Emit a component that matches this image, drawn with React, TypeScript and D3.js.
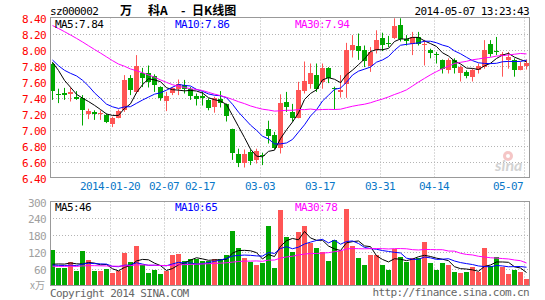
import React from "react";
import * as d3 from "d3";

const W = 545;
const H = 300;

// ---- data (2014-01-06 .. 2014-05-07, 80 trading days) ----
const open = [7.82, 7.445, 7.46, 7.44, 7.41, 7.40, 7.20, 7.22, 7.19, 7.18,
  7.07, 7.15, 7.24, 7.645, 7.47, 7.71, 7.71, 7.67, 7.53, 7.355,
  7.46, 7.51, 7.555, 7.51, 7.42, 7.42, 7.375, 7.28, 7.38, 7.32,
  7.005, 6.70, 6.583, 6.72, 6.617, 6.68, 7.005, 6.93, 6.775, 7.346,
  7.22, 7.15, 7.48, 7.575, 7.68, 7.60, 7.77, 7.52, 7.47, 7.575,
  8.00, 8.046, 7.99, 7.80, 7.99, 8.15, 8.08, 8.14, 8.31, 8.13,
  8.067, 8.158, 8.05, 8.00, 7.95, 7.867, 7.74, 7.875, 7.71, 7.72,
  7.66, 7.74, 7.78, 8.067, 7.985, 7.92, 7.875, 7.867, 7.74, 7.80];
const high = [7.84, 7.51, 7.52, 7.525, 7.48, 7.43, 7.26, 7.24, 7.24, 7.20,
  7.16, 7.25, 7.68, 7.68, 7.93, 7.77, 7.80, 7.69, 7.54, 7.47,
  7.53, 7.625, 7.62, 7.53, 7.45, 7.47, 7.39, 7.41, 7.48, 7.325,
  7.01, 6.76, 6.75, 6.75, 6.76, 6.71, 7.11, 6.97, 7.44, 7.47,
  7.32, 7.596, 7.85, 7.825, 7.825, 7.825, 7.78, 7.535, 7.68, 8.083,
  8.18, 8.20, 8.05, 8.03, 8.24, 8.21, 8.17, 8.39, 8.39, 8.18,
  8.22, 8.22, 8.12, 8.01, 7.97, 7.875, 7.89, 7.89, 7.80, 7.74,
  7.76, 7.825, 8.117, 8.117, 8.157, 7.97, 7.97, 7.89, 7.845, 7.875];
const low = [7.37, 7.33, 7.37, 7.35, 7.37, 7.05, 7.13, 7.12, 7.12, 7.08,
  7.03, 7.14, 7.22, 7.43, 7.45, 7.53, 7.525, 7.47, 7.36, 7.23,
  7.43, 7.43, 7.45, 7.37, 7.30, 7.30, 7.24, 7.21, 7.275, 7.10,
  6.62, 6.53, 6.525, 6.555, 6.575, 6.555, 6.825, 6.75, 6.70, 7.22,
  7.10, 7.14, 7.45, 7.51, 7.47, 7.51, 7.58, 7.25, 7.40, 7.396,
  7.90, 7.87, 7.78, 7.72, 7.95, 7.98, 8.03, 8.13, 8.10, 8.05,
  7.93, 8.05, 7.80, 7.89, 7.825, 7.70, 7.70, 7.70, 7.60, 7.64,
  7.60, 7.70, 7.76, 7.91, 7.93, 7.66, 7.76, 7.66, 7.74, 7.75];
const close = [7.48, 7.44, 7.43, 7.47, 7.38, 7.24, 7.23, 7.19, 7.21, 7.10,
  7.15, 7.23, 7.625, 7.50, 7.80, 7.645, 7.60, 7.555, 7.39, 7.42,
  7.525, 7.57, 7.51, 7.42, 7.38, 7.40, 7.275, 7.39, 7.33, 7.17,
  6.71, 6.583, 6.70, 6.61, 6.733, 6.665, 6.925, 6.775, 7.333, 7.283,
  7.15, 7.50, 7.61, 7.71, 7.51, 7.77, 7.64, 7.51, 7.50, 8.00,
  8.06, 7.983, 7.86, 7.97, 8.12, 8.05, 8.07, 8.29, 8.13, 8.11,
  8.158, 8.067, 8.075, 7.96, 7.93, 7.76, 7.867, 7.763, 7.78, 7.667,
  7.74, 7.80, 7.99, 7.94, 7.97, 7.95, 7.91, 7.75, 7.79, 7.83];
const volume = [126, 63, 63, 83, 52, 122, 91, 52, 52, 59,
  45, 53, 115, 85, 140, 73, 46, 55, 41, 53,
  108, 112, 87, 93, 96, 87, 87, 95, 93, 108,
  194, 134, 99, 85, 75, 80, 214, 63, 268, 175,
  120, 190, 212, 152, 134, 120, 87, 161, 123, 272,
  140, 99, 73, 110, 110, 73, 55, 130, 101, 85,
  99, 99, 155, 80, 55, 80, 73, 48, 45, 48,
  65, 48, 135, 70, 102, 65, 42, 55, 48, 22];
// closes / volumes of the 29 sessions before the window (feed the moving averages)
const prevClose = [8.55, 8.62, 8.70, 8.66, 8.58, 8.64, 8.60, 8.56, 8.52, 8.57,
  8.50, 8.46, 8.52, 8.45, 8.40, 8.44, 8.38, 8.41, 8.36, 8.38,
  8.15, 8.00, 7.85, 7.70, 7.78, 7.95, 8.05, 7.90, 7.82];
const prevVolume = [72, 65, 58, 80, 70, 62, 55, 68, 75, 66,
  60, 72, 64, 58, 70, 78, 66, 62, 70, 59,
  75, 68, 72, 66, 69, 58, 66, 62, 68];

const tickIndex = [10, 19, 25, 35, 45, 55, 64, 79];
const tickLabels = ["2014-01-20", "02-07", "02-17", "03-03", "03-17", "03-31", "04-14", "05-07"];
const priceTicks = [6.4, 6.6, 6.8, 7.0, 7.2, 7.4, 7.6, 7.8, 8.0, 8.2, 8.4];
const volTicks = [60, 120, 180, 240, 300];
const maPeriods = [5, 10, 30];
const maColors = ["#000000", "#0000ff", "#ff00ff"];
const priceLegend = ["MA5:7.84", "MA10:7.86", "MA30:7.94"];
const volLegend = ["MA5:46", "MA10:65", "MA30:78"];

const RED = "#ff5555";
const GREEN = "#00a800";
const GRID = "#b4b4b4";
const BORDER = "#999999";
const MONO = "'DejaVu Sans Mono', 'Liberation Mono', monospace";

function movingAvg(prev: number[], vals: number[], n: number): number[] {
  const all = prev.concat(vals);
  return vals.map((_, i) => {
    const j = prev.length + i;
    let s = 0;
    for (let t = j - n + 1; t <= j; t++) s += all[t];
    return s / n;
  });
}

export default function App() {
  const L = 50, R = 529;
  const pTop = 17.5, pBot = 177.5;
  const vTop = 201.5, vBot = 285.5;

  const x = d3.scaleLinear().domain([0, 80]).range([50, 530]);
  const yP = d3.scaleLinear().domain([6.4, 8.4]).range([pBot, pTop]);
  const yV = d3.scaleLinear().domain([0, 300]).range([vBot, vTop]);

  const cx = (i: number) => Math.round(x(i)) + 2.5;
  const priceMA = maPeriods.map((n) => movingAvg(prevClose, close, n));
  const volMA = maPeriods.map((n) => movingAvg(prevVolume, volume, n));
  const lineP = d3.line<number>().x((_, i) => cx(i)).y((v) => yP(v));
  const lineV = d3.line<number>().x((_, i) => cx(i)).y((v) => yV(v));

  const up = (i: number) => close[i] >= open[i];
  const legendX = [55, 175, 295];
  const txt = { fontFamily: MONO, fontSize: 11, letterSpacing: -0.6 } as const;

  return (
    <svg width={W} height={H} style={{ display: "block", position: "absolute", left: 0, top: 0, background: "#fff" }}>
      <defs>
        <clipPath id="clipP"><rect x={L} y={pTop} width={R - L + 1} height={pBot - pTop} /></clipPath>
        <clipPath id="clipV"><rect x={L} y={vTop} width={R - L + 1} height={vBot - vTop} /></clipPath>
      </defs>
      <rect x={0} y={0} width={W} height={H} fill="#fff" />

      {/* header */}
      <text x={50} y={15} {...txt} fill="#000">sz000002</text>
      <g fontFamily="'Noto Sans CJK SC', sans-serif" fontSize={12} fontWeight="bold" fill="#000">
        <text x={120} y={15}>万</text>
        <text x={148} y={15}>科A</text>
        <text x={181} y={15}>-</text>
        <text x={192} y={15}>日K线图</text>
      </g>
      <text x={529} y={15} {...txt} textAnchor="end" fill="#000">2014-05-07 13:23:43</text>

      {/* price grid */}
      {priceTicks.slice(1, -1).map((t) => (
        <line key={"pg" + t} x1={L} x2={R} y1={Math.round(yP(t)) + 0.5} y2={Math.round(yP(t)) + 0.5}
          stroke={GRID} strokeDasharray="1,2" />
      ))}
      {tickIndex.map((k) => (
        <line key={"pv" + k} x1={Math.round(x(k)) + 0.5} x2={Math.round(x(k)) + 0.5} y1={pTop} y2={pBot}
          stroke={GRID} strokeDasharray="1,2" />
      ))}
      {priceTicks.map((t) => (
        <text key={"pl" + t} x={46} y={Math.round(yP(t)) + 4.5} {...txt} textAnchor="end" fill="#ff0000">
          {t.toFixed(2)}
        </text>
      ))}

      {/* watermark */}
      <g opacity={0.8}>
        <circle cx={508} cy={156} r={5} fill="#f3b8b8" />
        <circle cx={508} cy={156} r={2} fill="#fff" />
        <text x={495} y={171} fontFamily="Lato, sans-serif" fontStyle="italic" fontWeight="bold" fontSize={16} fill="#c8c8c8">sina</text>
      </g>

      {/* candles */}
      <g clipPath="url(#clipP)">
        {close.map((c, i) => {
          const xl = Math.round(x(i));
          const col = up(i) ? RED : GREEN;
          const yt = Math.round(yP(Math.max(open[i], c)));
          const yb = Math.round(yP(Math.min(open[i], c)));
          return (
            <g key={"c" + i}>
              <line x1={xl + 2.5} x2={xl + 2.5} y1={yP(high[i])} y2={yP(low[i])} stroke={col} strokeWidth={1} />
              <rect x={xl} y={yt} width={5} height={Math.max(1, yb - yt)} fill={col} />
            </g>
          );
        })}
        {priceMA.map((m, j) => (
          <path key={"pm" + j} d={lineP(m) || ""} fill="none" stroke={maColors[j]} strokeWidth={1} />
        ))}
      </g>
      {priceLegend.map((s, j) => (
        <text key={"pleg" + j} x={legendX[j]} y={27.5} {...txt} fill={maColors[j]}>{s}</text>
      ))}
      <rect x={L + 0.5} y={pTop} width={R - L} height={pBot - pTop} fill="none" stroke={BORDER} />

      {/* x labels */}
      {tickIndex.map((k, j) => {
        const last = j === tickIndex.length - 1;
        return (
          <text key={"xl" + k} x={last ? Math.round(x(k)) - 1 : Math.round(x(k))} y={190} {...txt}
            textAnchor={last ? "end" : "middle"} fill="#0a78c8">{tickLabels[j]}</text>
        );
      })}

      {/* volume grid */}
      {volTicks.slice(0, -1).map((t) => (
        <line key={"vg" + t} x1={L} x2={R} y1={Math.round(yV(t)) + 0.5} y2={Math.round(yV(t)) + 0.5}
          stroke={GRID} strokeDasharray="1,2" />
      ))}
      {tickIndex.map((k) => (
        <line key={"vv" + k} x1={Math.round(x(k)) + 0.5} x2={Math.round(x(k)) + 0.5} y1={vTop} y2={vBot}
          stroke={GRID} strokeDasharray="1,2" />
      ))}
      {volTicks.map((t) => (
        <text key={"vl" + t} x={46} y={Math.round(yV(t)) + 4.5} {...txt} textAnchor="end" fill="#a0a0a0">{t}</text>
      ))}
      <text x={30} y={289} fontFamily="'Noto Sans CJK SC', sans-serif" fontSize={10} fill="#a0a0a0">x万</text>

      <g clipPath="url(#clipV)">
        {volume.map((v, i) => {
          const xl = Math.round(x(i));
          const yt = Math.round(yV(v));
          return <rect key={"v" + i} x={xl} y={yt} width={5} height={vBot - yt} fill={up(i) ? RED : GREEN} />;
        })}
        {volMA.map((m, j) => (
          <path key={"vm" + j} d={lineV(m) || ""} fill="none" stroke={maColors[j]} strokeWidth={1} />
        ))}
      </g>
      {volLegend.map((s, j) => (
        <text key={"vleg" + j} x={legendX[j]} y={210.5} {...txt} fill={maColors[j]}>{s}</text>
      ))}
      <rect x={L + 0.5} y={vTop} width={R - L} height={vBot - vTop} fill="none" stroke={BORDER} />

      {/* footer */}
      <text x={50} y={297} {...txt} fill="#666">Copyright 2014 SINA.COM</text>
      <text x={529} y={296} {...txt} textAnchor="end" fill="#666">http://finance.sina.com.cn</text>
    </svg>
  );
}
